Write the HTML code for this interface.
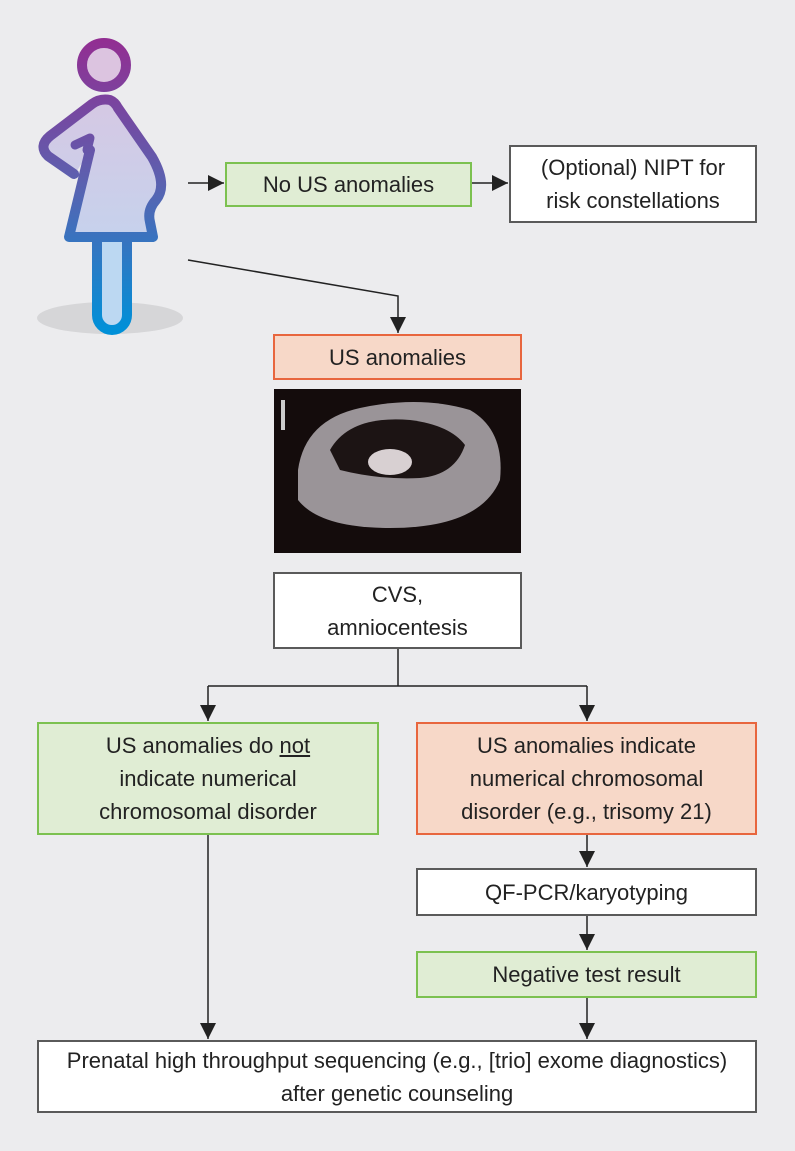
<!DOCTYPE html>
<html><head><meta charset="utf-8"><style>
html,body{margin:0;padding:0}
body{width:795px;height:1151px;background:#ececee;position:relative;overflow:hidden;font-family:"Liberation Sans",sans-serif;color:#222}
.b{position:absolute;box-sizing:border-box;display:flex;align-items:center;justify-content:center;text-align:center;font-size:22px;line-height:33px}
.b span{display:block}
.g{background:#e0edd4;border:2px solid #7cc150}
.o{background:#f7d8c8;border:2px solid #e8663e}
.w{background:#fff;border:2px solid #5a5a5a}
svg{position:absolute;left:0;top:0}
</style></head><body>
<svg width="795" height="1151">
<defs>
<linearGradient id="st" gradientUnits="userSpaceOnUse" x1="0" y1="40" x2="0" y2="330"><stop offset="0" stop-color="#922e92"/><stop offset="0.5" stop-color="#5a62b0"/><stop offset="1" stop-color="#0090d8"/></linearGradient>
<linearGradient id="fl" gradientUnits="userSpaceOnUse" x1="0" y1="40" x2="0" y2="330"><stop offset="0" stop-color="#dcc4e0"/><stop offset="1" stop-color="#bcd8f2"/></linearGradient>
<marker id="ad" viewBox="0 0 10 10" markerWidth="16" markerHeight="16" refX="10" refY="5" orient="auto" markerUnits="userSpaceOnUse"><path d="M0,0 L10,5 L0,10z" fill="#222"/></marker>
</defs>
<ellipse cx="110" cy="318" rx="73" ry="16" fill="#d6d6d8"/>
<circle cx="104" cy="65" r="22" fill="#dcc4e0" stroke="url(#st)" stroke-width="10"/>
<path d="M97,240 L97,315 A15,15 0 0 0 127,315 L127,240" fill="#bcd8f2" stroke="url(#st)" stroke-width="10"/>
<path d="M102,100 Q110,98 116,106 L150,155 Q170,185 158,200 Q145,210 151,225 L153,237 L69,237 L90,150 L75,174 L48,156 Q38,146 50,136 L92,104 Q97,100 102,100Z" fill="url(#fl)"/>
<path d="M74,174 L48,156 Q38,146 50,136 L92,104 Q100,98 110,100 Q115,102 118,108 L152,157 Q168,185 156,200 Q147,210 150,222 L153,237 L69,237 L90,150" fill="none" stroke="url(#st)" stroke-width="10" stroke-linejoin="round" stroke-linecap="round"/>
<path d="M75,145 L90,138 L87,150" fill="none" stroke="url(#st)" stroke-width="9" stroke-linecap="round" stroke-linejoin="round"/>
<g stroke="#222" stroke-width="1.5" fill="none">
<line x1="188" y1="183" x2="224" y2="183" marker-end="url(#ad)"/>
<line x1="472" y1="183" x2="508" y2="183" marker-end="url(#ad)"/>
<polyline points="188,260 398,296 398,333" marker-end="url(#ad)"/>
<line x1="398" y1="648" x2="398" y2="686"/>
<line x1="208" y1="686" x2="587" y2="686"/>
<line x1="208" y1="686" x2="208" y2="721" marker-end="url(#ad)"/>
<line x1="587" y1="686" x2="587" y2="721" marker-end="url(#ad)"/>
<line x1="208" y1="834" x2="208" y2="1039" marker-end="url(#ad)"/>
<line x1="587" y1="834" x2="587" y2="867" marker-end="url(#ad)"/>
<line x1="587" y1="915" x2="587" y2="950" marker-end="url(#ad)"/>
<line x1="587" y1="997" x2="587" y2="1039" marker-end="url(#ad)"/>
</g>
<rect x="274" y="389" width="247" height="164" fill="#140c0c"/>
<path d="M298,470 Q305,420 360,408 Q420,395 470,410 Q505,430 500,480 Q480,528 390,528 Q320,528 298,500Z" fill="#9a9498"/>
<path d="M330,450 Q350,415 410,420 Q450,425 465,445 Q455,475 420,478 Q380,480 340,470Z" fill="#1c1414"/>
<ellipse cx="390" cy="462" rx="22" ry="13" fill="#d8d0d2"/>
<rect x="281" y="400" width="4" height="30" fill="#ccc"/>
</svg>
<div class="b g" style="left:225px;top:162px;width:247px;height:45px"><span>No US anomalies</span></div>
<div class="b w" style="left:509px;top:145px;width:248px;height:78px"><span>(Optional) NIPT for<br>risk constellations</span></div>
<div class="b o" style="left:273px;top:334px;width:249px;height:46px"><span>US anomalies</span></div>
<div class="b w" style="left:273px;top:572px;width:249px;height:77px"><span>CVS,<br>amniocentesis</span></div>
<div class="b g" style="left:37px;top:722px;width:342px;height:113px"><span>US anomalies do <u>not</u><br>indicate numerical<br>chromosomal disorder</span></div>
<div class="b o" style="left:416px;top:722px;width:341px;height:113px"><span>US anomalies indicate<br>numerical chromosomal<br>disorder (e.g., trisomy 21)</span></div>
<div class="b w" style="left:416px;top:868px;width:341px;height:48px"><span>QF-PCR/karyotyping</span></div>
<div class="b g" style="left:416px;top:951px;width:341px;height:47px"><span>Negative test result</span></div>
<div class="b w" style="left:37px;top:1040px;width:720px;height:73px"><span>Prenatal high throughput sequencing (e.g., [trio] exome diagnostics)<br>after genetic counseling</span></div>
</body></html>
